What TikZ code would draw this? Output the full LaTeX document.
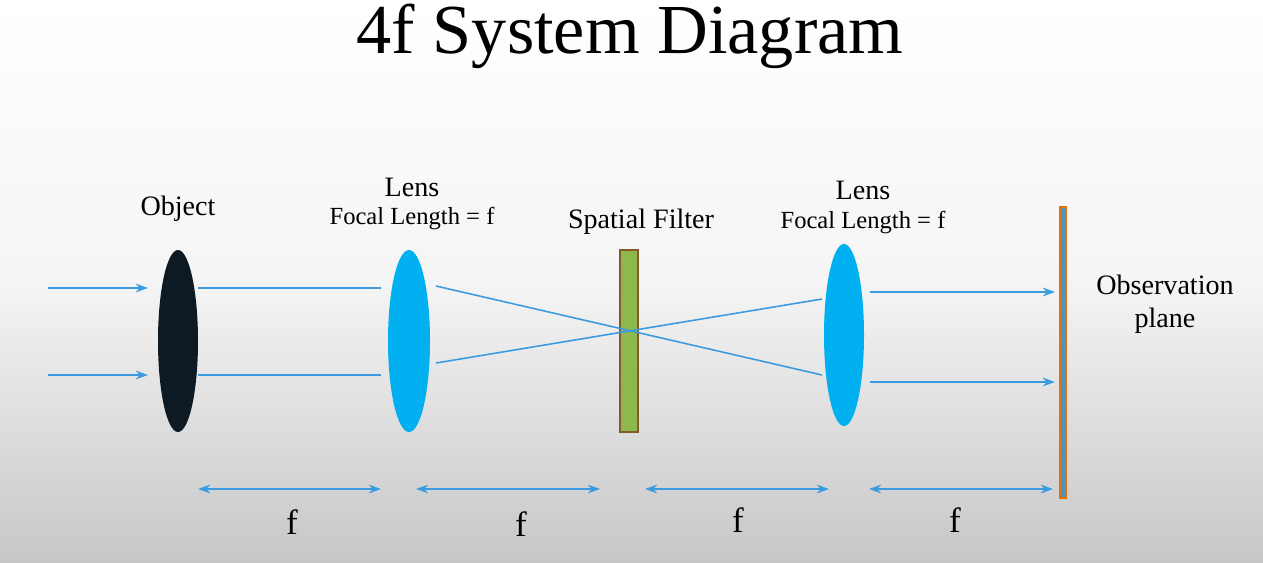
\documentclass[tikz,border=0pt]{standalone}
\usepackage{fontspec}
\setmainfont{Liberation Serif}
\usetikzlibrary{arrows.meta}
\definecolor{ray}{HTML}{3A9BE0}
\definecolor{lensblue}{HTML}{00B0F0}
\definecolor{objdark}{HTML}{0D1A24}
\definecolor{filt}{HTML}{8CB84C}
\begin{document}
\begin{tikzpicture}[x=0.02cm,y=-0.02cm,
  r/.style={draw=ray,line width=0.9pt},
  ra/.style={r,-{Stealth[length=7pt,width=5pt]}},
  rd/.style={r,{Stealth[length=7pt,width=5pt]}-{Stealth[length=7pt,width=5pt]}},
  lab/.style={font=\fontsize{16}{19}\selectfont},
  sub/.style={font=\fontsize{14}{16}\selectfont},
  flab/.style={font=\fontsize{20}{22}\selectfont}]
\shade[top color=white,bottom color=black!22,middle color=white!96!black] (0,0) rectangle (1263,562);
\useasboundingbox (0,0) rectangle (1263,562);
\node[anchor=base] (title) at (630,53) {\fontsize{40}{44}\selectfont 4f System Diagram};
\fill[objdark] (178,341) ellipse [x radius=20,y radius=91];
\node (obj) at (178,341) {};
\fill[lensblue] (409,341) ellipse [x radius=21,y radius=91];
\node (l1) at (409,341) {};
\fill[lensblue] (844,335) ellipse [x radius=20,y radius=91];
\node (l2) at (844,335) {};
\draw[draw=brown!70!black,fill=filt,line width=0.8pt] (620,250) rectangle (638,432);
\node (filter) at (629,341) {};
\draw[draw=orange!90!black,fill=ray!80!gray,line width=0.8pt] (1060,207) rectangle (1066,498);
\node (plane) at (1063,352) {};
% labels
\node[lab] (tobj) at (178,209) {Object};
\node[lab] (tl1) at (412,187) {Lens};
\node[sub] (tf1) at (412,218) {Focal Length = f};
\node[lab] (tsf) at (641,222) {Spatial Filter};
\node[lab] (tl2) at (863,190) {Lens};
\node[sub] (tf2) at (863,222) {Focal Length = f};
\node[lab,align=center] (tobs) at (1165,304) {Observation\\plane};
% rays
\coordinate (a1) at (48,288); \coordinate (b1) at (148,288);
\coordinate (a2) at (48,375); \coordinate (b2) at (148,375);
\draw[ra] (a1) -- (b1); \draw[ra] (a2) -- (b2);
\coordinate (c1) at (198,288); \coordinate (d1) at (381,288);
\coordinate (c2) at (198,375); \coordinate (d2) at (381,375);
\draw[r] (c1) -- (d1); \draw[r] (c2) -- (d2);
\coordinate (e1) at (436,286); \coordinate (g1) at (822,375);
\coordinate (e2) at (436,363); \coordinate (g2) at (822,299);
\draw[r] (e1) -- (g1); \draw[r] (e2) -- (g2);
\coordinate (h1) at (870,292); \coordinate (k1) at (1055,292);
\coordinate (h2) at (870,382); \coordinate (k2) at (1055,382);
\draw[ra] (h1) -- (k1); \draw[ra] (h2) -- (k2);
% dimension arrows
\foreach \xa/\xb/\xf/\yf [count=\i] in {198/381/292/522, 416/600/521/524, 645/829/738/520, 869/1053/955/520}{
  \coordinate (m\i a) at (\xa,489); \coordinate (m\i b) at (\xb,489);
  \draw[rd] (m\i a) -- (m\i b);
  \node[flab] (f\i) at (\xf,\yf) {f};
}
\end{tikzpicture}
\end{document}
